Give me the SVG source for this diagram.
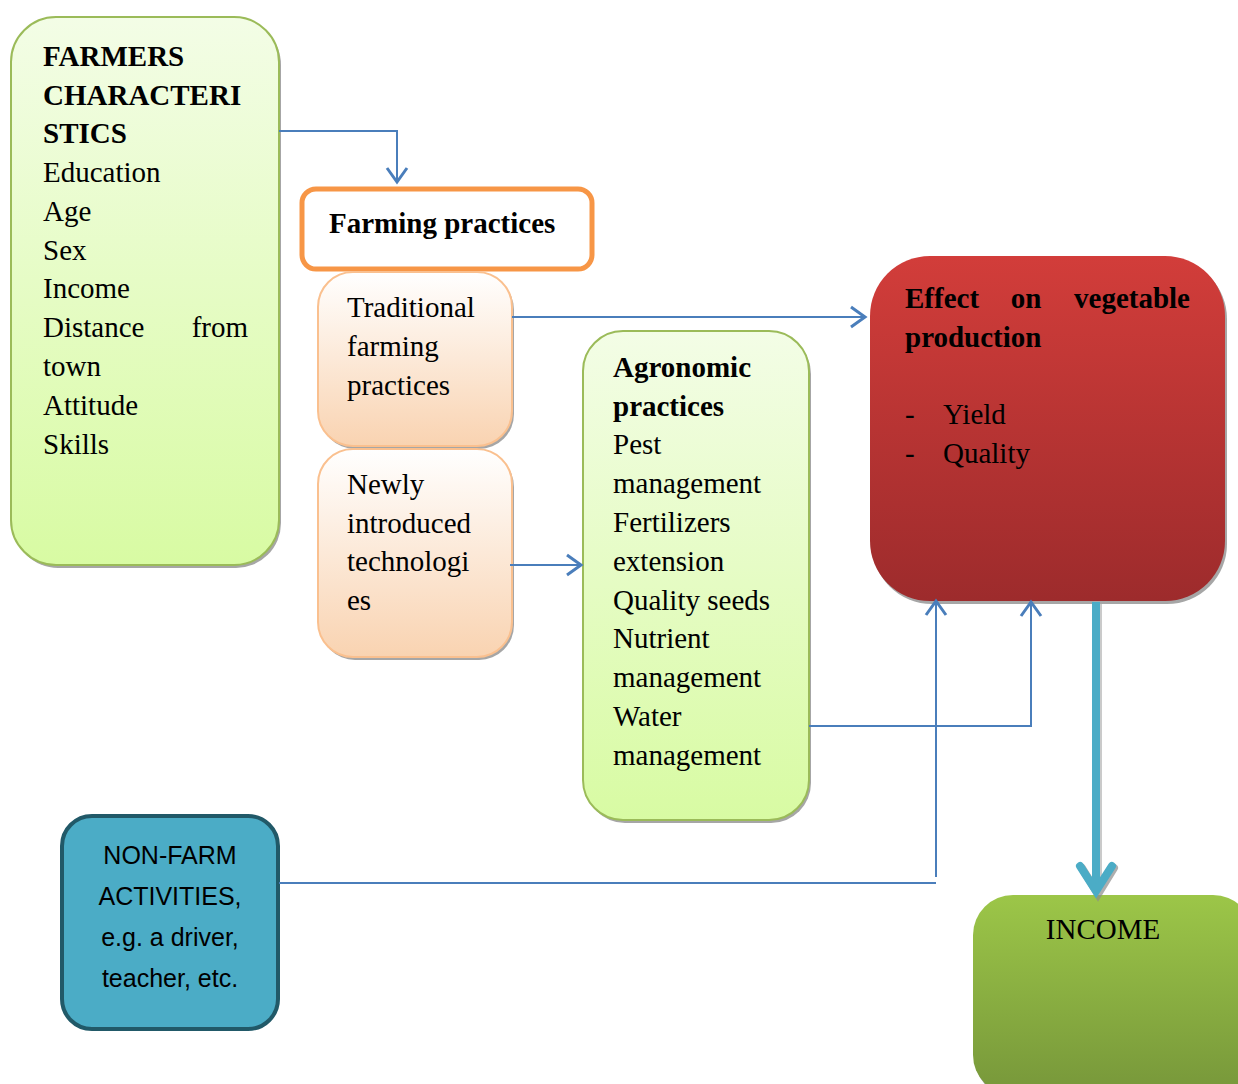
<svg xmlns="http://www.w3.org/2000/svg" width="1238" height="1084" viewBox="0 0 1238 1084">
<style>
.t{font-family:"Liberation Serif","Times New Roman",serif;font-size:29px;fill:#000}
.b{font-weight:bold}
.s{font-family:"Liberation Sans",Arial,sans-serif;font-size:25px;fill:#000}
.conn{fill:none;stroke:#4a7ebb;stroke-width:2}
.sh{fill:#a6a6a6}
</style>
<defs>
<linearGradient id="gGreen" x1="0" y1="0" x2="0" y2="1"><stop offset="0" stop-color="#f3fde6"/><stop offset="1" stop-color="#d8fba3"/></linearGradient>
<linearGradient id="gPeach" x1="0" y1="0" x2="0" y2="1"><stop offset="0" stop-color="#ffffff"/><stop offset="1" stop-color="#f9d3b1"/></linearGradient>
<linearGradient id="gRed" x1="0" y1="0" x2="0" y2="1"><stop offset="0" stop-color="#d23d3a"/><stop offset="1" stop-color="#9d2b2c"/></linearGradient>
<linearGradient id="gInc" x1="0" y1="0" x2="0" y2="1"><stop offset="0" stop-color="#9cc648"/><stop offset="1" stop-color="#77973a"/></linearGradient>
<marker id="ah" viewBox="0 0 24 24" markerWidth="24" markerHeight="24" refX="21" refY="12" orient="auto" markerUnits="userSpaceOnUse">
<path d="M6,2 L20,12 L6,22" fill="none" stroke="#4a7ebb" stroke-width="3"/>
</marker>
</defs>

<g id="farmers">
<rect class="sh" x="13" y="20" width="268" height="548" rx="45"/>
<rect x="11" y="17" width="268" height="548" rx="45" fill="url(#gGreen)" stroke="#9bbb59" stroke-width="2"/>
<text class="t b" x="43" y="66">FARMERS</text>
<text class="t b" x="43" y="105">CHARACTERI</text>
<text class="t b" x="43" y="143">STICS</text>
<text class="t" x="43" y="182">Education</text>
<text class="t" x="43" y="221">Age</text>
<text class="t" x="43" y="260">Sex</text>
<text class="t" x="43" y="298">Income</text>
<text class="t" x="43" y="337">Distance</text>
<text class="t" x="248" y="337" text-anchor="end">from</text>
<text class="t" x="43" y="376">town</text>
<text class="t" x="43" y="415">Attitude</text>
<text class="t" x="43" y="454">Skills</text>
</g>

<g id="farming">
<rect x="302" y="189" width="290" height="80" rx="14" fill="#fff" stroke="#f79646" stroke-width="5"/>
<text class="t b" x="329" y="233">Farming practices</text>
</g>

<g id="traditional">
<rect class="sh" x="320" y="275" width="194" height="174" rx="35"/>
<rect x="318" y="272" width="194" height="174" rx="35" fill="url(#gPeach)" stroke="#fac08f" stroke-width="2"/>
<text class="t" x="347" y="317">Traditional</text>
<text class="t" x="347" y="356">farming</text>
<text class="t" x="347" y="395">practices</text>
</g>

<g id="newly">
<rect class="sh" x="320" y="452" width="194" height="208" rx="35"/>
<rect x="318" y="449" width="194" height="208" rx="35" fill="url(#gPeach)" stroke="#fac08f" stroke-width="2"/>
<text class="t" x="347" y="494">Newly</text>
<text class="t" x="347" y="533">introduced</text>
<text class="t" x="347" y="571">technologi</text>
<text class="t" x="347" y="610">es</text>
</g>

<g id="agronomic">
<rect class="sh" x="585" y="334" width="226" height="489" rx="40"/>
<rect x="583" y="331" width="226" height="489" rx="40" fill="url(#gGreen)" stroke="#9bbb59" stroke-width="2"/>
<text class="t b" x="613" y="377">Agronomic</text>
<text class="t b" x="613" y="416">practices</text>
<text class="t" x="613" y="454">Pest</text>
<text class="t" x="613" y="493">management</text>
<text class="t" x="613" y="532">Fertilizers</text>
<text class="t" x="613" y="571">extension</text>
<text class="t" x="613" y="610">Quality seeds</text>
<text class="t" x="613" y="648">Nutrient</text>
<text class="t" x="613" y="687">management</text>
<text class="t" x="613" y="726">Water</text>
<text class="t" x="613" y="765">management</text>
</g>

<g id="effect">
<rect class="sh" x="872" y="259" width="355" height="345" rx="60"/>
<rect x="870" y="256" width="355" height="345" rx="60" fill="url(#gRed)"/>
<text class="t b" x="905" y="308">Effect</text>
<text class="t b" x="1026" y="308" text-anchor="middle">on</text>
<text class="t b" x="1190" y="308" text-anchor="end">vegetable</text>
<text class="t b" x="905" y="347">production</text>
<text class="t" x="905" y="424">-</text>
<text class="t" x="943" y="424">Yield</text>
<text class="t" x="905" y="463">-</text>
<text class="t" x="943" y="463">Quality</text>
</g>

<g id="nonfarm">
<rect x="62" y="816" width="216" height="213" rx="30" fill="#4bacc6" stroke="#215968" stroke-width="4"/>
<text class="s" x="170" y="864" text-anchor="middle">NON-FARM</text>
<text class="s" x="170" y="905" text-anchor="middle">ACTIVITIES,</text>
<text class="s" x="170" y="946" text-anchor="middle">e.g. a driver,</text>
<text class="s" x="170" y="987" text-anchor="middle">teacher, etc.</text>
</g>

<g id="income">
<rect class="sh" x="975" y="898" width="280" height="200" rx="40"/>
<rect x="973" y="895" width="280" height="200" rx="40" fill="url(#gInc)"/>
<text class="t" x="1103" y="939" text-anchor="middle">INCOME</text>
</g>

<g id="connectors">
<path class="conn" d="M279,131 H397 V183" marker-end="url(#ah)"/>
<path class="conn" d="M512,317 H866" marker-end="url(#ah)"/>
<path class="conn" d="M510,565 H582" marker-end="url(#ah)"/>
<path class="conn" d="M809,726 H1031 V601" marker-end="url(#ah)"/>
<path class="conn" d="M279,883 H936"/>
<path class="conn" d="M936,877 V600" marker-end="url(#ah)"/>
<path d="M1098,604 V889" fill="none" stroke="#a6a6a6" stroke-width="8" opacity="0.6"/>
<path d="M1082,868 L1098,894 L1114,868" fill="none" stroke="#8c8c8c" stroke-width="8" stroke-linecap="round" stroke-linejoin="miter" opacity="0.7"/>
<path d="M1096,602 V888" fill="none" stroke="#4bacc6" stroke-width="8"/>
<path d="M1080,866 L1096,891 L1112,866" fill="none" stroke="#4bacc6" stroke-width="8" stroke-linecap="round"/>
</g>
</svg>
